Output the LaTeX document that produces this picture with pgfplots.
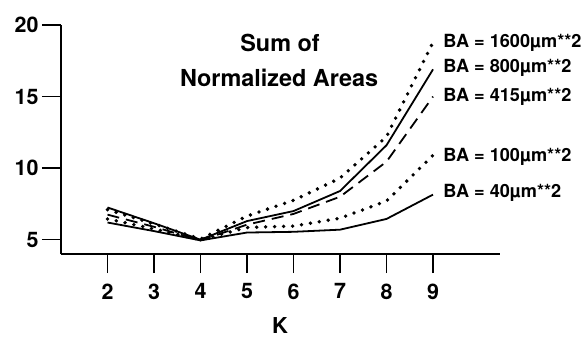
\documentclass[border=0pt]{standalone}
\usepackage{fontspec}
\setmainfont{TeX Gyre Heros}
\usepackage{pgfplots}
\pgfplotsset{compat=1.18}
\begin{document}
\begin{tikzpicture}
\begin{axis}[
  scale only axis, width=439bp, height=229bp,
  xmin=1, xmax=10.44, ymin=4, ymax=20,
  axis lines=left,
  axis line style={-, line width=1.8bp},
  xtick={2,...,9}, ytick={5,10,15,20},
  tick align=outside, major tick length=19bp,
  tick style={line width=1.5bp, black},
  ticklabel style={font=\fontsize{21.5}{24}\selectfont\bfseries},
  xticklabel style={yshift=-7bp},
  /pgf/number format/assume math mode=true,
  clip=false,
]
\coordinate (O) at (rel axis cs:0,0);
\addplot[black, line width=3.8bp, line cap=round, dash pattern=on 0pt off 9bp] coordinates {
 (2,7.1) (3,6.1) (4,5.05) (5,6.65) (6,7.75) (7,9.3) (8,12.2) (9,18.8)};
\addplot[black, line width=1.8bp] coordinates {
 (2,7.25) (3,6.15) (4,5.0) (5,6.3) (6,7.0) (7,8.4) (8,11.6) (9,16.9)};
\addplot[black, line width=1.8bp, dash pattern=on 12bp off 7bp] coordinates {
 (2,6.75) (3,5.9) (4,4.95) (5,6.05) (6,6.8) (7,8.0) (8,10.45) (9,15.0)};
\addplot[black, line width=3.8bp, line cap=round, dash pattern=on 0pt off 9bp] coordinates {
 (2,6.45) (3,5.75) (4,5.0) (5,5.85) (6,5.95) (7,6.5) (8,7.7) (9,10.9)};
\addplot[black, line width=1.8bp] coordinates {
 (2,6.2) (3,5.6) (4,4.95) (5,5.5) (6,5.55) (7,5.7) (8,6.45) (9,8.15)};
\begin{scope}[every node/.style={font=\fontsize{18.2}{20}\selectfont\bfseries, anchor=west, inner sep=0pt}]
\node at (axis cs:9.22,18.74) {BA = 1600µm**2};
\node at (axis cs:9.22,17.0) {BA = 800µm**2};
\node at (axis cs:9.22,14.97) {BA = 415µm**2};
\node at (axis cs:9.22,10.78) {BA = 100µm**2};
\node at (axis cs:9.22,8.26) {BA = 40µm**2};
\end{scope}
\node[font=\fontsize{23.5}{26}\selectfont\bfseries] at (axis cs:5.71,18.74) {Sum of};
\node[font=\fontsize{23.5}{26}\selectfont\bfseries] at (axis cs:5.69,16.3) {Normalized Areas};
\node[font=\fontsize{22}{24}\selectfont\bfseries] at (axis cs:5.71,4) [yshift=-72bp] {K};
\end{axis}
\pgfresetboundingbox
\path (O) ++(-61bp,-85bp) rectangle ++(584bp,339bp);
\end{tikzpicture}
\end{document}
